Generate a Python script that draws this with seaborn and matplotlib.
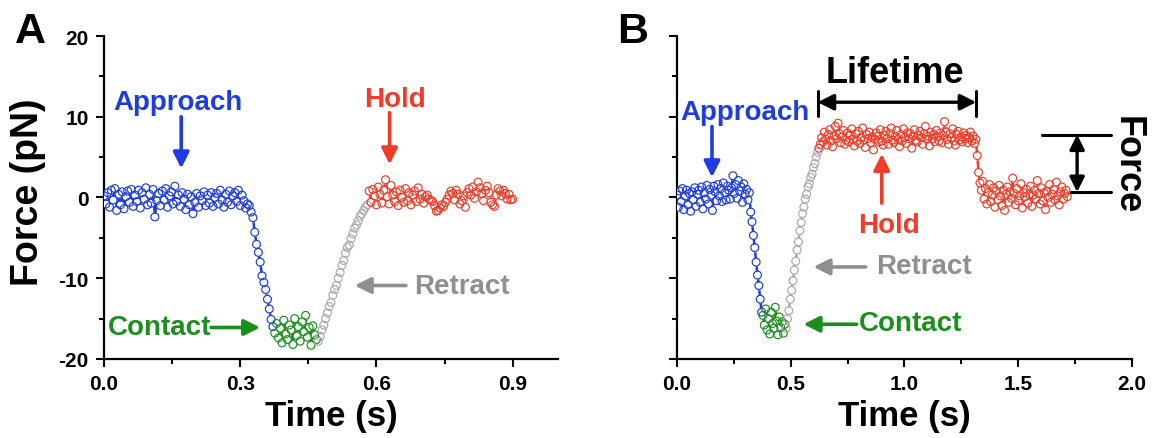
import numpy as np
import pandas as pd
import matplotlib
matplotlib.use("Agg")
import matplotlib.pyplot as plt
import seaborn as sns

# ---------------- data (force in pN, sampled at fixed interval) ----------------
dt_A = 0.004
approach_A = [0.2, -0.8, 0.6, -1.2, 0.9, -0.3, 1.1, -1.6, 0.4, -0.9,
              0.7, -1.4, 0.1, 0.8, -0.6, 1.0, -1.1, 0.3, -0.5, 0.9,
              -1.3, 0.6, -0.2, 1.2, -0.9, 0.4, -0.7, 1.0, -2.4, -0.4,
              0.5, -1.0, 0.8, -0.3, 1.1, -1.2, 0.2, 0.7, -0.8, 1.4,
              -0.5, 0.3, -1.1, 0.6, -0.2, -1.5, 0.4, -0.9, 0.1, -2.0,
              -0.6, 0.5, -1.2, 0.2, -0.4, 0.7, -1.0, 0.3, -0.7, 0.6,
              -1.1, 0.0, 0.5, -0.8, 0.9, -0.3, -1.2, 0.4, -0.6, 0.8,
              -0.9, 0.2, 0.6, -0.5, 0.9, -1.0, 0.3, -0.4, -1.3, -0.8,
              -1.0, -1.8, -2.5, -4.3, -5.8, -6.8, -8.0, -9.7, -10.5, -11.4,
              -12.6, -13.8, -15.1, -16.0]
contact_A = [-16.8, -15.6, -17.4, -16.2, -18.0, -15.2, -16.9, -17.6, -15.8, -16.4,
             -18.2, -15.0, -17.1, -16.0, -17.8, -15.4, -16.6, -14.6, -17.3, -16.1,
             -18.3, -15.9, -17.0, -17.6]
retract_A = [-17.8, -17.2, -16.4, -15.8, -15.0, -14.3, -13.5, -13.0, -12.1, -11.4,
             -10.9, -10.0, -9.3, -8.4, -7.8, -6.9, -6.2, -5.9, -5.1, -4.5,
             -3.8, -3.4, -2.9, -2.3, -2.0, -1.6, -1.2, -0.9]
hold_A = [0.8, -0.6, 1.0, 0.2, -0.9, 1.3, 0.4, -0.7, 0.9, 2.2,
          0.1, -0.8, 1.5, 0.3, -0.5, 0.7, -1.0, 0.9, 0.0, -0.6,
          1.1, -0.4, 0.6, -0.9, 0.3, 0.8, -0.5, 1.2, -0.2, 0.4,
          -0.7, 0.1, 0.3, -0.2, -0.4, -0.5, -1.0, -1.7, -1.6, -1.3,
          -0.9, -1.1, -0.6, -0.2, 0.3, 0.8, 0.5, -0.3, 0.9, 0.4,
          -0.8, -0.4, 0.2, -1.2, 0.6, 1.1, 0.3, 1.3, -0.1, 0.7,
          1.9, 1.2, 0.5, -0.4, 0.9, 1.4, 0.6, -0.6, -0.9, -1.1,
          0.3, 1.1, 0.8, 0.2, 0.9, 0.5, -0.2, 0.4, -0.3, -0.2]

dt_B = 0.006
approach_B = [0.3, -1.2, 0.8, -0.5, 1.1, -1.5, 0.2, 0.9, -0.9, 0.5,
              -1.7, 0.7, -0.3, 1.2, -1.1, 0.4, 0.9, -0.6, 1.3, -1.4,
              0.6, -0.2, 1.5, -0.8, 1.0, 0.3, -1.6, 1.4, 0.7, -0.4,
              1.6, 0.2, 1.1, -0.5, 1.8, 0.6, -0.3, 1.4, 0.9, -0.2,
              1.2, 2.7, 0.5, 1.6, -0.1, 2.1, 0.8, 1.3, -0.6, 1.7,
              0.4, 1.0, -0.3, 0.6,
              -1.8, -3.0, -4.7, -6.2, -8.0, -9.6, -10.9, -12.6, -14.2]
contact_B = [-14.6, -15.8, -13.8, -16.4, -15.0, -16.9, -14.2, -15.6, -16.2, -13.6,
             -15.3, -17.0, -14.8, -16.1, -15.4, -16.8, -15.7]
retract_B = [-16.2, -15.0, -14.0, -12.6, -11.5, -10.3, -9.0, -7.9, -6.5, -5.5,
             -4.1, -3.1, -2.0, -1.2, -0.2, 0.4, 1.3, 1.7, 2.5, 2.9,
             3.7, 4.2, 5.0, 5.6]
hold_B = [6.1, 6.6, 7.4, 6.9, 8.1, 7.2, 6.5, 7.8, 8.4, 7.0,
          6.3, 7.6, 8.8, 7.3, 9.2, 7.9, 6.8, 7.5, 8.3, 6.6,
          7.1, 8.0, 6.9, 7.7, 8.5, 7.2, 6.4, 7.9, 7.0, 8.2,
          6.7, 7.4, 8.6, 7.1, 6.2, 7.8, 7.3, 8.1, 6.8, 7.5,
          5.9, 7.2, 8.0, 7.6, 6.9, 8.4, 7.0, 6.5, 7.7, 8.2,
          7.3, 6.6, 7.9, 8.6, 7.1, 6.8, 7.6, 8.3, 7.2, 6.3,
          7.8, 7.0, 8.5, 7.4, 6.7, 8.0, 7.3, 7.9, 6.1, 7.6,
          8.4, 7.1, 6.9, 7.7, 8.2, 7.4, 6.6, 7.9, 8.8, 7.2,
          7.6, 6.4, 8.1, 7.3, 7.8, 6.9, 8.3, 7.5, 7.0, 8.0,
          6.8, 7.7, 9.4, 8.1, 7.2, 6.6, 7.9, 7.4, 8.5, 7.0,
          6.5, 7.8, 8.2, 7.1, 7.5, 6.9, 8.0, 7.3, 7.7, 6.8,
          7.4, 8.1, 7.0, 7.6, 6.7, 7.2,
          5.2, 3.1, 1.8, 0.9, 2.0, -0.2, 1.1, -0.8, 0.6, 1.6,
          -0.5, 0.3, 1.2, -1.2, 0.8, -0.3, 1.5, 0.2, -1.0, 0.9,
          -1.6, 0.4, 1.3, -0.6, 0.7, -0.1, 2.4, 0.5, -0.9, 1.1,
          -0.4, 0.2, 1.7, -1.3, 0.6, 0.1, 1.0, -0.7, 0.4, 1.4,
          -1.1, 0.3, 0.9, -0.2, 2.1, 0.5, -0.8, 1.2, -0.4, 0.6,
          -1.5, 0.8, 0.0, 1.6, -0.6, 0.4, 1.0, -0.3, 1.9, 0.2,
          -0.9, 0.7, 1.3, -0.2, 0.5, 0.9, 0.1]

phases = ["Approach", "Contact", "Retract", "Hold"]
y_ticks = [-20, -10, 0, 10, 20]
y_minor = [-15, -5, 5, 15]
xticks_A = [0.0, 0.3, 0.6, 0.9]
xminor_A = [0.15, 0.45, 0.75]
xticks_B = [0.0, 0.5, 1.0, 1.5, 2.0]
xminor_B = [0.25, 0.75, 1.25, 1.75]

BLUE = "#1e3ce4"
GREEN = "#1b8f1b"
GRAY_T = "#8f8f8f"
GRAY_M = "#a9a9a9"
RED = "#f03c28"
palette = {"Approach": BLUE, "Contact": GREEN, "Retract": GRAY_M, "Hold": RED}


def build(dt, segs):
    rows = []
    i = 0
    for name, vals in zip(phases, segs):
        for v in vals:
            rows.append((i * dt, v, name))
            i += 1
    return pd.DataFrame(rows, columns=["t", "F", "phase"])


df_A = build(dt_A, [approach_A, contact_A, retract_A, hold_A])
df_B = build(dt_B, [approach_B, contact_B, retract_B, hold_B])

# ---------------- style ----------------
sns.set_theme(style="ticks")
plt.rcParams["font.family"] = ["Liberation Sans", "DejaVu Sans"]
plt.rcParams["font.weight"] = "bold"
plt.rcParams["axes.labelweight"] = "bold"
plt.rcParams["text.color"] = "black"
plt.rcParams["axes.labelcolor"] = "black"
plt.rcParams["xtick.color"] = "black"
plt.rcParams["ytick.color"] = "black"
plt.rcParams["axes.edgecolor"] = "black"

fig = plt.figure(figsize=(11.56, 4.39), dpi=100)
axA = fig.add_axes([0.090, 0.180, 0.3927, 0.7357])
axB = fig.add_axes([0.5856, 0.180, 0.3936, 0.7357])


def draw_trace(ax, df):
    for ph in phases:
        sub = df[df.phase == ph]
        c = palette[ph]
        sns.lineplot(data=sub, x="t", y="F", color=c, lw=1.8, sort=False,
                     estimator=None, ax=ax, zorder=2)
        sns.scatterplot(data=sub, x="t", y="F", color="white", s=32,
                        linewidth=0, ax=ax, zorder=3)
        sns.scatterplot(data=sub, x="t", y="F", marker="o", s=32,
                        facecolor="none", edgecolor=c, linewidth=0.85,
                        ax=ax, zorder=4)


def style_axes(ax, xt, xm, xlim, ylabels):
    ax.set_xlim(*xlim)
    ax.set_ylim(-20, 20)
    ax.set_xticks(xt)
    ax.set_xticks(xm, minor=True)
    ax.set_yticks(y_ticks)
    ax.set_yticks(y_minor, minor=True)
    ax.set_xticklabels([f"{v:.1f}" for v in xt])
    if ylabels:
        ax.set_yticklabels([str(v) for v in y_ticks])
    else:
        ax.set_yticklabels([])
    for s in ["top", "right"]:
        ax.spines[s].set_visible(False)
    for s in ["left", "bottom"]:
        ax.spines[s].set_linewidth(1.6)
        ax.spines[s].set_color("black")
    ax.tick_params(which="major", direction="out", length=6, width=1.5,
                   labelsize=15, pad=5, colors="black")
    ax.tick_params(which="minor", direction="out", length=3.5, width=1.5,
                   colors="black")
    for lab in ax.get_xticklabels() + ax.get_yticklabels():
        lab.set_fontweight("bold")
    ax.set_xlabel("Time (s)", fontsize=25, fontweight="bold", color="black")
    ax.xaxis.set_label_coords(0.5, -0.175)
    ax.xaxis.label.set_va("center")
    ax.set_ylabel("")
    ax.set_facecolor("white")


draw_trace(axA, df_A)
draw_trace(axB, df_B)
style_axes(axA, xticks_A, xminor_A, (0, 1.0), True)
style_axes(axB, xticks_B, xminor_B, (0, 2.0), False)
axA.set_ylabel("Force (pN)", fontsize=27, fontweight="bold", color="black")
axA.yaxis.set_label_coords(-0.167, 0.52)
axA.yaxis.label.set_va("center")


def arrow(ax, start, end, color, style="-|>", lw=2.6, ms=24):
    ax.annotate("", xy=end, xytext=start,
                arrowprops=dict(arrowstyle=style, color=color, lw=lw,
                                mutation_scale=ms, shrinkA=0, shrinkB=0),
                annotation_clip=False)


tkw = dict(fontsize=20, fontweight="bold")
# Panel A annotations
axA.text(0.02, 10.95, "Approach", color=BLUE, ha="left", va="baseline", **tkw)
arrow(axA, (0.17, 10.0), (0.17, 3.6), BLUE)
axA.text(0.572, 11.3, "Hold", color=RED, ha="left", va="baseline", **tkw)
arrow(axA, (0.629, 10.5), (0.629, 4.1), RED)
axA.text(0.684, -10.9, "Retract", color=GRAY_T, ha="left", va="center", **tkw)
arrow(axA, (0.665, -10.9), (0.552, -10.9), GRAY_T)
axA.text(0.236, -16.1, "Contact", color=GREEN, ha="right", va="center", **tkw)
arrow(axA, (0.236, -16.1), (0.344, -16.1), GREEN)

# Panel B annotations
axB.text(0.013, 9.7, "Approach", color=BLUE, ha="left", va="baseline", **tkw)
arrow(axB, (0.154, 8.8), (0.154, 2.5), BLUE)
axB.text(0.93, -4.3, "Hold", color=RED, ha="center", va="baseline", **tkw)
arrow(axB, (0.9, -0.7), (0.9, 5.4), RED)
axB.text(0.877, -8.5, "Retract", color=GRAY_T, ha="left", va="center", **tkw)
arrow(axB, (0.83, -8.6), (0.6, -8.6), GRAY_T)
axB.text(0.80, -15.6, "Contact", color=GREEN, ha="left", va="center", **tkw)
arrow(axB, (0.79, -15.7), (0.556, -15.7), GREEN)

# Lifetime bracket
for xb in (0.618, 1.316):
    axB.plot([xb, xb], [10.1, 13.2], color="black", lw=2.2, clip_on=False)
arrow(axB, (0.618, 11.8), (1.316, 11.8), "black", style="<|-|>", lw=2.4, ms=24)
axB.text(0.957, 14.3, "Lifetime", color="black", ha="center", va="baseline",
         fontsize=26, fontweight="bold")

# Force bracket
for yb in (7.8, 0.67):
    axB.plot([1.605, 1.908], [yb, yb], color="black", lw=2.2, clip_on=False)
arrow(axB, (1.759, 7.8), (1.759, 0.67), "black", style="<|-|>", lw=2.4, ms=22)
axB.text(1.978, 4.1, "Force", color="black", ha="center", va="center",
         rotation=-90, fontsize=26, fontweight="bold", clip_on=False)

# panel letters
fig.text(0.013, 0.902, "A", fontsize=31, fontweight="bold", ha="left", va="baseline",
         color="black")
fig.text(0.534, 0.902, "B", fontsize=31, fontweight="bold", ha="left", va="baseline",
         color="black")

fig.savefig("out.png", dpi=100, facecolor="white")
